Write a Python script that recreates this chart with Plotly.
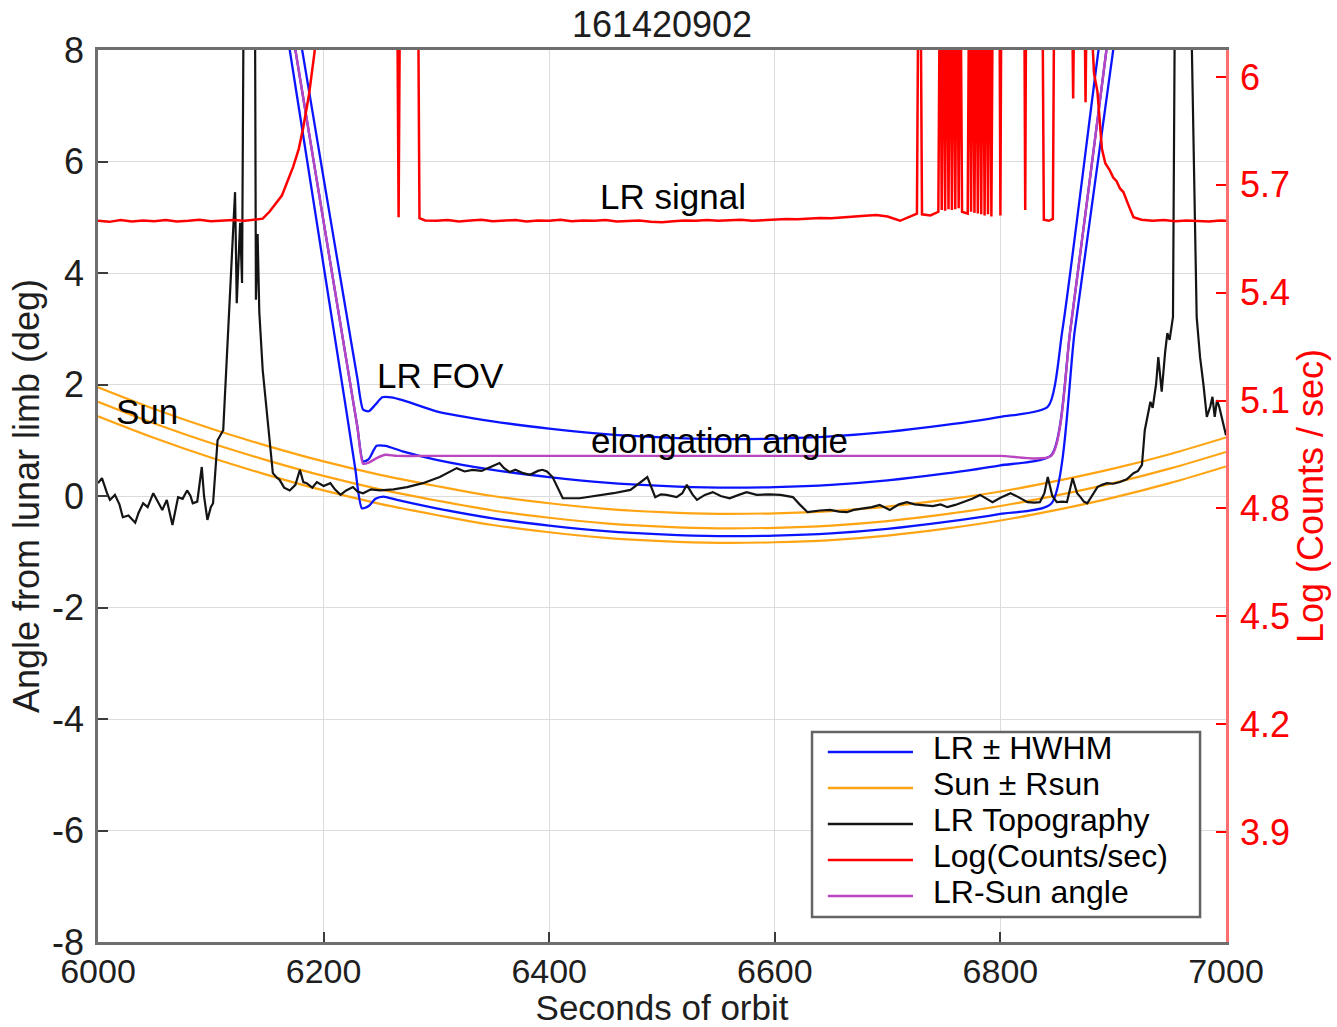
import plotly.graph_objects as go

# ---------------- data ----------------
sun_t = [6000, 6050, 6100, 6150, 6200, 6250, 6300, 6350, 6400, 6450, 6500,
         6550, 6600, 6650, 6700, 6750, 6800, 6850, 6900, 6950, 7000]
sun_hi = [1.95, 1.56, 1.21, 0.90, 0.62, 0.38, 0.18, 0.00, -0.13, -0.23, -0.29,
          -0.32, -0.31, -0.27, -0.19, -0.07, 0.08, 0.27, 0.49, 0.75, 1.05]
sun_mid = [1.69, 1.30, 0.95, 0.64, 0.36, 0.12, -0.08, -0.26, -0.39, -0.49, -0.55,
           -0.58, -0.57, -0.53, -0.45, -0.33, -0.18, 0.01, 0.23, 0.49, 0.79]
sun_lo = [1.43, 1.04, 0.69, 0.38, 0.10, -0.14, -0.34, -0.52, -0.65, -0.75, -0.81,
          -0.84, -0.83, -0.79, -0.71, -0.59, -0.44, -0.25, -0.03, 0.23, 0.53]

lr_hi_t = [6165, 6181, 6200, 6220, 6230, 6235, 6240, 6246, 6252, 6260, 6270, 6300,
           6350, 6400, 6450, 6500, 6550, 6600, 6650, 6700, 6750, 6800, 6842, 6855, 6887, 6900]
lr_hi = [9.9, 8.0, 5.7, 3.3, 2.1, 1.55, 1.52, 1.64, 1.77, 1.77, 1.72, 1.52,
         1.34, 1.21, 1.11, 1.05, 1.02, 1.03, 1.07, 1.15, 1.27, 1.42, 1.60, 2.98, 8.0, 9.8]

lr_mid_t = [6160, 6175, 6200, 6220, 6230, 6235, 6240, 6247, 6255, 6270, 6300, 6350,
            6400, 6450, 6500, 6550, 6600, 6650, 6700, 6750, 6800, 6845, 6862, 6894, 6905]
lr_mid = [9.85, 8.0, 4.92, 2.46, 1.23, 0.62, 0.66, 0.90, 0.90, 0.80, 0.65, 0.47,
          0.34, 0.24, 0.18, 0.15, 0.16, 0.20, 0.28, 0.40, 0.55, 0.73, 2.98, 8.0, 9.6]

lr_lo_t = [6155, 6170, 6200, 6220, 6228, 6234, 6240, 6246, 6253, 6265, 6300, 6350,
           6400, 6450, 6500, 6550, 6600, 6650, 6700, 6750, 6800, 6845, 6866, 6900, 6912]
lr_lo = [9.9, 8.0, 4.13, 1.55, 0.50, -0.22, -0.18, -0.05, -0.01, -0.07, -0.22, -0.40,
         -0.53, -0.63, -0.69, -0.72, -0.71, -0.67, -0.59, -0.47, -0.32, -0.14, 2.98, 8.0, 9.8]

elong_t = [6160, 6175, 6200, 6220, 6230, 6235, 6240, 6247, 6255, 6265, 6300, 6400,
           6500, 6600, 6700, 6800, 6845, 6862, 6894, 6905]
elong = [9.85, 8.0, 4.92, 2.46, 1.23, 0.58, 0.60, 0.68, 0.74, 0.72, 0.72, 0.72,
         0.72, 0.72, 0.72, 0.72, 0.72, 2.98, 8.0, 9.6]

topo_t = [6000, 6003.5, 6008, 6010.6, 6015, 6019, 6022, 6027, 6033, 6036, 6040, 6044,
          6049, 6053, 6057, 6061, 6066, 6071, 6075, 6079, 6082, 6084, 6088, 6092, 6094,
          6097, 6100, 6102, 6106, 6111, 6115, 6119, 6121.5, 6123, 6126, 6127.7, 6129.4,
          6139, 6140, 6141.5, 6143, 6146, 6152.5, 6155, 6158, 6161, 6165, 6170, 6175,
          6179, 6182, 6185, 6190, 6194, 6200, 6206, 6210, 6215, 6220, 6226, 6230, 6235,
          6242, 6250, 6262, 6274, 6288, 6303, 6318, 6325, 6332, 6340, 6348, 6356, 6360,
          6365, 6370, 6377, 6383, 6390, 6394, 6398, 6403, 6412, 6427, 6440, 6457, 6472,
          6480, 6487, 6494, 6499, 6504, 6513, 6518, 6522, 6527, 6531, 6538, 6545, 6552,
          6560, 6568, 6575, 6584, 6595, 6605, 6616, 6622, 6629, 6640, 6649, 6657, 6664,
          6670, 6678, 6686, 6693, 6697, 6702, 6710, 6717, 6724, 6731, 6740, 6747, 6753,
          6760, 6767, 6775, 6782, 6788, 6793, 6800, 6809, 6816, 6824, 6830, 6835, 6839,
          6842, 6846, 6850, 6855, 6859, 6864, 6868, 6871, 6874, 6877, 6881, 6886, 6890,
          6894.5, 6900, 6906, 6912, 6918, 6922, 6925.5, 6928, 6931, 6933, 6935, 6938,
          6940, 6943, 6946, 6948, 6950, 6953, 6955, 6968, 6974, 6977, 6980, 6983, 6986,
          6988, 6990, 6992, 6994, 6996, 7000]
topo = [0.23, 0.32, 0.05, -0.07, 0.02, -0.15, -0.38, -0.35, -0.48, -0.30, -0.13, -0.20,
        0.05, -0.10, -0.25, -0.07, -0.52, -0.02, -0.05, 0.10, 0.00, -0.13, -0.10, 0.52, 0.00,
        -0.43, -0.20, -0.13, 1.00, 1.18, 2.85, 4.65, 5.45, 3.46, 4.90, 3.82, 10.0,
        10.0, 3.52, 4.70, 3.30, 2.26, 0.95, 0.41, 0.34, 0.29, 0.15, 0.10, 0.20,
        0.47, 0.25, 0.23, 0.15, 0.25, 0.18, 0.23, 0.12, 0.02, 0.10, 0.16, 0.08, 0.05,
        0.12, 0.10, 0.12, 0.16, 0.23, 0.34, 0.50, 0.44, 0.47, 0.45, 0.52, 0.59, 0.50,
        0.43, 0.47, 0.41, 0.38, 0.45, 0.47, 0.44, 0.34, -0.04, -0.04, 0.00, 0.05, 0.11,
        0.23, 0.34, -0.02, 0.03, 0.02, -0.02, 0.05, 0.20, 0.03, -0.07, 0.02, 0.07, 0.00,
        -0.04, 0.02, 0.07, 0.02, 0.03, 0.02, -0.02, -0.15, -0.29, -0.26, -0.25, -0.28, -0.29,
        -0.25, -0.22, -0.20, -0.16, -0.20, -0.25, -0.15, -0.11, -0.15, -0.16, -0.18, -0.15, -0.20,
        -0.16, -0.11, -0.05, 0.02, -0.05, -0.11, -0.03, 0.05, -0.02, -0.11, -0.12, -0.11, 0.05,
        0.34, 0.00, -0.11, -0.10, -0.11, 0.32, 0.05, -0.02, -0.10, -0.13, 0.00, 0.16, 0.20,
        0.23, 0.22, 0.25, 0.30, 0.41, 0.45, 0.56, 1.18, 1.50, 1.69, 1.58, 2.00,
        2.49, 1.87, 2.57, 2.92, 2.80, 3.21, 10.0, 10.0, 3.21, 2.49, 2.00, 1.42, 1.60,
        1.78, 1.42, 1.72, 1.60, 1.42, 1.09]

red_t = [6000, 6010, 6020, 6030, 6040, 6050, 6060, 6070, 6080, 6090, 6100, 6110, 6120,
         6130, 6140, 6146, 6152, 6158, 6163, 6168, 6173, 6178, 6182, 6187, 6192, 6197,
         6265, 6266.5, 6268, 6283.5, 6285, 6290,
         6300, 6310, 6320, 6330, 6340, 6350, 6360, 6370, 6380, 6390, 6400, 6410, 6420,
         6430, 6440, 6450, 6460, 6470, 6480, 6490, 6500, 6510, 6520, 6530, 6540, 6550,
         6560, 6570, 6580, 6590, 6600, 6610, 6620, 6630, 6640, 6650, 6660, 6670, 6680,
         6690, 6700, 6711, 6720, 6726,
         6727.5, 6729, 6730.5, 6738, 6745,
         6746.5, 6748, 6749.5, 6751, 6752.5, 6754, 6755.5, 6757, 6758.5, 6760, 6761.5,
         6763, 6764.5, 6766, 6771,
         6772.5, 6774, 6775.5, 6777, 6778.5, 6780, 6781.5, 6783, 6784.5, 6786, 6787.5,
         6789, 6790.5, 6792, 6793.5,
         6799, 6800, 6801, 6821, 6822, 6823, 6837, 6838.5, 6843, 6846.5, 6848,
         6863, 6864.5, 6866, 6874, 6875.5, 6877, 6880, 6883, 6886, 6888, 6890, 6893,
         6897, 6900, 6903, 6906, 6909, 6914, 6918, 6925, 6935, 6945, 6955, 6965, 6975,
         6985, 6995, 7000]
red_log = [5.600, 5.597, 5.602, 5.598, 5.601, 5.599, 5.602, 5.598, 5.600, 5.603, 5.599, 5.601, 5.602,
           5.600, 5.603, 5.606, 5.625, 5.650, 5.670, 5.710, 5.750, 5.800, 5.860, 5.950, 6.070, 6.400,
           6.400, 5.610, 6.400, 6.400, 5.607, 5.601,
           5.600, 5.602, 5.598, 5.601, 5.603, 5.599, 5.600, 5.602, 5.598, 5.601, 5.600, 5.603, 5.599,
           5.601, 5.600, 5.602, 5.598, 5.600, 5.601, 5.597, 5.596, 5.599, 5.601, 5.600, 5.602, 5.600,
           5.601, 5.603, 5.600, 5.602, 5.603, 5.605, 5.604, 5.606, 5.608, 5.607, 5.610, 5.612, 5.614,
           5.616, 5.612, 5.600, 5.612, 5.620,
           6.400, 6.400, 5.618, 5.615, 5.625,
           6.400, 5.630, 6.400, 5.628, 6.400, 5.632, 6.400, 5.630, 6.400, 5.632, 6.400,
           5.635, 6.400, 5.625, 5.620,
           6.400, 5.625, 6.400, 5.622, 6.400, 5.620, 6.400, 5.618, 6.400, 5.615, 6.400,
           5.618, 6.400, 5.612, 6.400,
           6.400, 5.615, 6.400, 6.400, 5.630, 6.400, 6.400, 5.603, 5.600, 5.605, 6.400,
           6.400, 5.940, 6.400, 6.400, 5.930, 6.400, 6.200, 6.010, 5.960, 5.870, 5.800, 5.760,
           5.740, 5.720, 5.710, 5.690, 5.680, 5.640, 5.610, 5.603, 5.600, 5.602, 5.599, 5.601, 5.600,
           5.598, 5.601, 5.600]

x_ticks = [6000, 6200, 6400, 6600, 6800, 7000]
y_ticks = [-8, -6, -4, -2, 0, 2, 4, 6, 8]
y_tick_text = ['-8', '-6', '-4', '-2', '0', '2', '4', '6', '8']
y2_ticks = [3.9, 4.2, 4.5, 4.8, 5.1, 5.4, 5.7, 6.0]
y2_tick_text = ['3.9', '4.2', '4.5', '4.8', '5.1', '5.4', '5.7', '6']

legend_names = ['LR \u00b1 HWHM', 'Sun \u00b1 Rsun', 'LR Topography', 'Log(Counts/sec)', 'LR-Sun angle']

# ---------------- styles ----------------
FONT = 'Liberation Sans, Arial, Helvetica, sans-serif'
C_BLUE = 'rgb(10,20,255)'
C_ORANGE = 'rgb(255,165,20)'
C_BLACK = 'rgb(20,20,20)'
C_RED = 'rgb(255,0,0)'
C_PURPLE = 'rgb(185,70,190)'
legend_colors = [C_BLUE, C_ORANGE, C_BLACK, C_RED, C_PURPLE]

fig = go.Figure()
for ys in (sun_hi, sun_mid, sun_lo):
    fig.add_trace(go.Scatter(x=sun_t, y=ys, mode='lines', name=legend_names[1],
                             line=dict(color=C_ORANGE, width=2.2, shape='spline'),
                             showlegend=False))
for ts, ys in ((lr_hi_t, lr_hi), (lr_mid_t, lr_mid), (lr_lo_t, lr_lo)):
    fig.add_trace(go.Scatter(x=ts, y=ys, mode='lines', name=legend_names[0],
                             line=dict(color=C_BLUE, width=2.3, shape='spline', smoothing=0.6),
                             showlegend=False))
fig.add_trace(go.Scatter(x=topo_t, y=topo, mode='lines', name=legend_names[2],
                         line=dict(color=C_BLACK, width=2.2), showlegend=False))
fig.add_trace(go.Scatter(x=elong_t, y=elong, mode='lines', name=legend_names[4],
                         line=dict(color=C_PURPLE, width=2.4, shape='spline', smoothing=0.6),
                         showlegend=False))
fig.add_trace(go.Scatter(x=red_t, y=red_log, mode='lines', name=legend_names[3], yaxis='y2',
                         line=dict(color=C_RED, width=2.5), showlegend=False))

# ---------------- text labels ----------------
labels = [('LR signal', 6510, 5.38), ('LR FOV', 6304, 2.17), ('Sun', 6043, 1.52),
          ('elongation angle', 6551, 1.0)]
for txt, lx, ly in labels:
    fig.add_annotation(x=lx, y=ly, xref='x', yref='y', text=txt, showarrow=False,
                       font=dict(family=FONT, size=35, color='black'),
                       xanchor='center', yanchor='middle')

# ---------------- manual legend ----------------
L_X0, L_X1, L_Y0, L_Y1 = 0.633, 0.977, 0.028, 0.2354
row_y = [0.2130, 0.1726, 0.1323, 0.0919, 0.0516]
fig.add_shape(type='rect', xref='paper', yref='paper', x0=L_X0, x1=L_X1, y0=L_Y0, y1=L_Y1,
              line=dict(color='rgb(100,100,100)', width=2.5), fillcolor='white', layer='above')
for name, col, ry in zip(legend_names, legend_colors, row_y):
    fig.add_shape(type='line', xref='paper', yref='paper', x0=0.647, x1=0.7225, y0=ry, y1=ry,
                  line=dict(color=col, width=2.5), layer='above')
    fig.add_annotation(x=0.739, y=ry + 0.004, xref='paper', yref='paper', text=name, showarrow=False,
                       xanchor='left', yanchor='middle', borderpad=0,
                       font=dict(family=FONT, size=32, color='black'))

AX_LINE = 'rgb(110,110,110)'
GRID = 'rgb(220,220,220)'

fig.update_layout(
    width=1337, height=1027,
    margin=dict(l=98, r=111, t=50, b=85, pad=0, autoexpand=False),
    paper_bgcolor='white', plot_bgcolor='white',
    font=dict(family=FONT, size=36, color='rgb(30,30,30)'),
    title=dict(text='161420902', x=0.5, xref='paper', y=1 - 24 / 1027, yref='container',
               xanchor='center', yanchor='middle', font=dict(size=36, color='rgb(30,30,30)')),
    showlegend=False,
    xaxis=dict(range=[6000, 7000], tickmode='array', tickvals=x_ticks, automargin=False,
               ticks='inside', ticklen=10, tickwidth=1.5, tickcolor='rgb(60,60,60)',
               showgrid=True, gridcolor=GRID, gridwidth=1.2, zeroline=False,
               showline=True, linecolor=AX_LINE, linewidth=2.5, mirror=True,
               tickfont=dict(size=34), ticklabelstandoff=-3,
               title=dict(text='Seconds of orbit', font=dict(size=35), standoff=0)),
    yaxis=dict(range=[-8, 8], tickmode='array', tickvals=y_ticks, ticktext=y_tick_text,
               automargin=False,
               ticks='inside', ticklen=10, tickwidth=1.5, tickcolor='rgb(60,60,60)',
               showgrid=True, gridcolor=GRID, gridwidth=1.2, zeroline=False,
               showline=True, linecolor=AX_LINE, linewidth=2.5, mirror=False,
               tickfont=dict(size=36), ticklabelstandoff=4,
               title=dict(text='Angle from lunar limb (deg)', font=dict(size=36), standoff=2)),
    yaxis2=dict(range=[3.594, 6.075], overlaying='y', side='right', tickmode='array',
                tickvals=y2_ticks, ticktext=y2_tick_text, automargin=False,
                ticks='inside', ticklen=10, tickwidth=2, tickcolor=C_RED,
                showgrid=False, zeroline=False,
                showline=True, linecolor='rgb(255,110,110)', linewidth=2.5,
                tickfont=dict(size=36, color=C_RED), ticklabelstandoff=4,
                title=dict(text='Log (Counts / sec)', font=dict(size=36, color=C_RED), standoff=6)),
)

fig.write_html('out.html')
